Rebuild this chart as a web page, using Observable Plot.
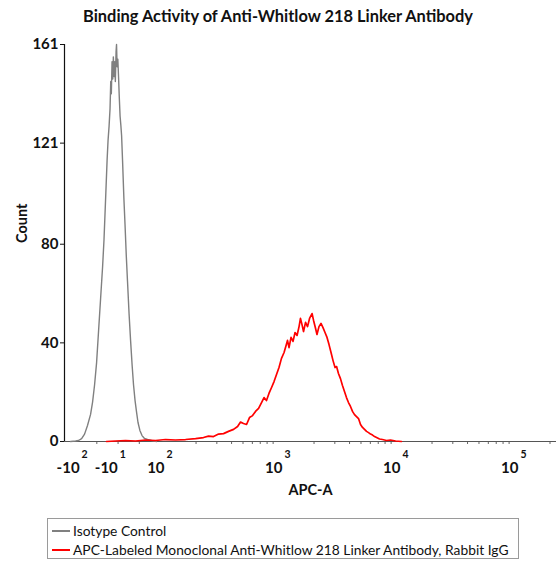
<!DOCTYPE html>
<html>
<head>
<meta charset="utf-8">
<script src="https://cdn.jsdelivr.net/npm/d3@7"></script>
<script src="https://cdn.jsdelivr.net/npm/@observablehq/plot@0.6"></script>
<style>
  html, body { margin: 0; padding: 0; background: #fff; }
  body { width: 556px; height: 561px; position: relative; overflow: hidden; font-family: Lato, "Open Sans", sans-serif; }
  #title { position: absolute; left: 0; width: 556px; top: 6px; text-align: center; font-size: 16.4px; font-weight: bold; color: #111; }
  #chart { position: absolute; left: 0; top: 30px; }
  #legend { position: absolute; left: 47px; top: 518px; width: 472px; height: 41px; border: 1px solid #9a9a9a; box-sizing: border-box; font-size: 13.8px; color: #111; }
  .item { position: absolute; left: 4px; display: flex; align-items: center; white-space: nowrap; }
  .sw { width: 18px; height: 0; border-top: 2px solid; margin-right: 3px; }
</style>
</head>
<body>
<div id="title">Binding Activity of Anti-Whitlow 218 Linker Antibody</div>
<div id="chart"></div>
<div id="legend"></div>
<script>
// ---- data (x in biexponential display decades, y = event count) ----
const seriesNames = ["Isotype Control", "APC-Labeled Monoclonal Anti-Whitlow 218 Linker Antibody, Rabbit IgG"];
const seriesColors = ["#808080", "#ff0000"];

const isotypeU = [1.237,1.280,1.305,1.331,1.356,1.381,1.407,1.424,1.441,1.458,1.475,1.492,1.509,1.521,1.534,1.547,1.555,1.564,1.572,1.578,1.583,1.589,1.595,1.600,1.606,1.612,1.617,1.623,1.627,1.632,1.638,1.644,1.650,1.657,1.664,1.670,1.678,1.689,1.699,1.710,1.720,1.733,1.746,1.759,1.771,1.784,1.797,1.809,1.825,1.843,1.864,1.890,1.924,1.966];
const isotypeCount = [0,0.2,0.4,1.2,3,6.5,11,16,23,32,45,58,71,82,98,114,122,128,135,146,141,154,147,156,148,154,146,158,161,152,155,148,140,132,128,124,114,99,88,75,65,52,41,31,23,16.6,11.8,7.7,4.5,2.4,1.2,0.8,0.4,0];

const apcU = [1.542,1.619,1.703,1.788,1.873,1.958,2.042,2.127,2.212,2.297,2.364,2.407,2.449,2.492,2.534,2.576,2.619,2.653,2.678,2.703,2.729,2.754,2.780,2.805,2.831,2.856,2.877,2.898,2.919,2.941,2.962,2.983,3.004,3.025,3.047,3.064,3.076,3.089,3.106,3.123,3.140,3.157,3.174,3.186,3.199,3.212,3.229,3.246,3.263,3.284,3.297,3.314,3.326,3.343,3.360,3.377,3.394,3.411,3.428,3.445,3.462,3.479,3.492,3.508,3.525,3.542,3.559,3.576,3.593,3.610,3.627,3.644,3.661,3.678,3.695,3.712,3.729,3.746,3.763,3.780,3.797,3.814,3.831,3.856,3.881,3.915,3.949,3.992,4.042];
const apcCount = [0,0.2,0.4,0.2,0.6,0.4,0.8,0.6,0.8,1.2,1.6,2.2,2.0,3.0,3.2,4.1,4.9,6.1,7.9,7.3,6.9,9.7,10.5,12.2,13.4,15.8,17.8,16.6,19.5,21.9,24.3,27.2,30,33.7,36.1,38.9,41,38.1,42.2,40.6,44.2,43,46.6,49.9,47.4,44.6,48.3,46.6,49.9,51.9,49.1,45.8,43.4,46.6,47.9,46.2,44.2,42.2,39.3,36.1,32.8,30,30.4,27.6,25.5,22.7,20.3,17.8,15.8,14.2,12.2,10.9,10.1,9.3,6.9,5.7,4.9,4.1,3.6,3.0,2.6,2.0,1.6,1.0,0.8,0.4,0.6,0.2,0];

// axis ticks (APC-A values) and their labels
const xTickValues = [-100, -10, 100, 1000, 10000, 100000];
const xTickBase = ["-10", "-10", "10", "10", "10", "10"];
const xTickExp = ["2", "1", "2", "3", "4", "5"];
const xMinorValues = [-50, 0, 50, 200, 300, 400, 500, 600, 700, 800, 900, 2000, 3000, 4000, 5000, 6000, 7000, 8000, 9000, 20000, 30000, 40000, 50000, 60000, 70000, 80000, 90000, 200000];
const yTicks = [0, 40, 80, 121, 161];
const xDomain = [1.186, 5.356];
const yDomain = [0, 161];

// biexponential display: linear around zero, log10 above 100
const biex = v => v >= 100 ? Math.log10(v) : 2 + (v - 100) * 0.0036;

const isotype = isotypeU.map((u, i) => ({u, count: isotypeCount[i]}));
const apc = apcU.map((u, i) => ({u, count: apcCount[i]}));
const majorU = xTickValues.map(biex);
const baseMap = new Map(majorU.map((u, i) => [u, xTickBase[i]]));
const expMap = new Map(majorU.map((u, i) => [u, xTickExp[i]]));
const minorU = xMinorValues.map(biex);

const chart = Plot.plot({
  width: 556,
  height: 475,
  marginLeft: 64,
  marginRight: 0,
  marginTop: 14,
  marginBottom: 64,
  style: {fontFamily: "Lato, 'Open Sans', sans-serif", color: "#111", background: "transparent", overflow: "visible"},
  x: {type: "linear", domain: xDomain},
  y: {type: "linear", domain: yDomain},
  marks: [
    Plot.axisX(minorU, {tickSize: 3, tickFormat: () => "", stroke: "#666", label: null}),
    Plot.axisX(majorU, {tickSize: 0, tickPadding: 21, tickFormat: d => baseMap.get(d), textAnchor: "end", dx: 4, fontSize: 15, fontWeight: "bold", label: null}),
    Plot.axisX(majorU, {tickSize: 0, tickPadding: 9, tickFormat: d => expMap.get(d), textAnchor: "start", dx: 6, fontSize: 10.5, fontWeight: "bold", label: null}),
    Plot.axisY(yTicks, {tickSize: 4, tickPadding: 2, fontSize: 15, fontWeight: "bold", label: null, stroke: "#111"}),
    Plot.ruleY([0], {stroke: "#555", strokeWidth: 1.2}),
    Plot.ruleX([xDomain[0]], {y1: yDomain[0], y2: yDomain[1], stroke: "#111", strokeWidth: 1.2}),
    Plot.line(isotype, {x: "u", y: "count", stroke: seriesColors[0], strokeWidth: 1.4}),
    Plot.line(apc, {x: "u", y: "count", stroke: seriesColors[1], strokeWidth: 1.7}),
    Plot.text(["APC-A"], {frameAnchor: "bottom", dy: 53, fontSize: 14.5, fontWeight: "bold"}),
    Plot.text(["Count"], {frameAnchor: "left", dx: -42, rotate: -90, fontSize: 14.5, fontWeight: "bold"})
  ]
});
document.getElementById("chart").appendChild(chart);

const legend = document.getElementById("legend");
seriesNames.forEach((name, i) => {
  const row = document.createElement("div");
  row.className = "item";
  row.style.top = (i === 0 ? 3 : 22) + "px";
  const sw = document.createElement("span");
  sw.className = "sw";
  sw.style.borderColor = seriesColors[i];
  const t = document.createElement("span");
  t.textContent = name;
  row.appendChild(sw);
  row.appendChild(t);
  legend.appendChild(row);
});
</script>
</body>
</html>
